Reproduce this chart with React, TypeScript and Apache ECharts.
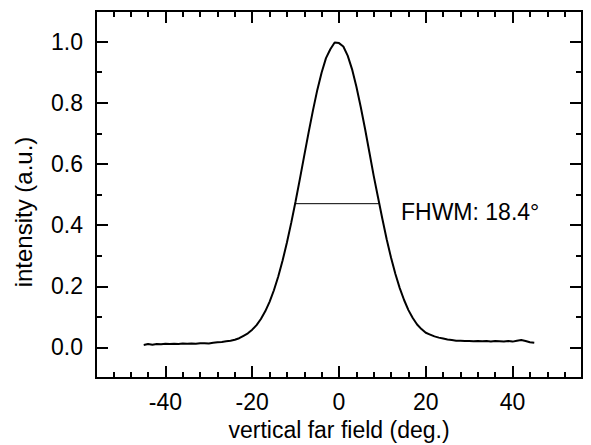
import React, { useEffect, useRef } from "react";
import * as echarts from "echarts";

// Measured far-field profile (deg., normalized intensity)
const angles: number[] = [
  -45, -44, -43, -42, -41, -40, -39, -38, -37, -36, -35, -34, -33, -32, -31, -30,
  -29, -28, -27, -26, -25, -24, -23, -22, -21, -20, -19, -18, -17, -16, -15, -14,
  -13, -12, -11, -10, -9, -8, -7, -6, -5, -4, -3, -2, -1, 0, 1, 2, 3, 4, 5, 6, 7,
  8, 9, 10, 11, 12, 13, 14, 15, 16, 17, 18, 19, 20, 21, 22, 23, 24, 25, 26, 27, 28,
  29, 30, 31, 32, 33, 34, 35, 36, 37, 38, 39, 40, 41, 42, 43, 44, 45,
];
const intensity: number[] = [
  0.008, 0.011, 0.009, 0.011, 0.010, 0.012, 0.011, 0.012, 0.011, 0.013, 0.012, 0.013,
  0.012, 0.014, 0.014, 0.013, 0.015, 0.017, 0.018, 0.020, 0.022, 0.025, 0.030, 0.038,
  0.046, 0.058, 0.073, 0.093, 0.118, 0.149, 0.187, 0.232, 0.284, 0.343, 0.408, 0.478,
  0.552, 0.628, 0.703, 0.775, 0.842, 0.899, 0.946, 0.975, 0.997, 0.995, 0.984, 0.954,
  0.910, 0.853, 0.787, 0.715, 0.638, 0.561, 0.490, 0.420, 0.353, 0.293, 0.240, 0.194,
  0.155, 0.122, 0.096, 0.075, 0.060, 0.048, 0.042, 0.036, 0.032, 0.029, 0.026, 0.024,
  0.022, 0.022, 0.021, 0.021, 0.020, 0.021, 0.020, 0.021, 0.019, 0.021, 0.020, 0.019,
  0.021, 0.019, 0.022, 0.024, 0.021, 0.017, 0.015,
];
// Full-width-at-half-maximum marker
const fwhmX: number[] = [-10, 9.2];
const fwhmY = 0.47;
const fwhmLabel = "FHWM: 18.4°";

const xMajorTicks: number[] = [-40, -20, 0, 20, 40];
const yMajorTicks: number[] = [0, 0.2, 0.4, 0.6, 0.8, 1.0];
const xRange: [number, number] = [-56, 56];
const yRange: [number, number] = [-0.1, 1.1];
const xTitle = "vertical far field (deg.)";
const yTitle = "intensity (a.u.)";

const FONT = "'Liberation Sans', Arial, Helvetica, sans-serif";
const FS = 23;

export default function App() {
  const ref = useRef<HTMLDivElement>(null);
  useEffect(() => {
    if (!ref.current) return;
    const chart = echarts.init(ref.current, undefined, { renderer: "svg" });
    const axisLine = { show: true, onZero: false, lineStyle: { color: "#000", width: 2 } };
    const mkX = (pos: "bottom" | "top", major: boolean, labels: boolean) => ({
      type: "value",
      position: pos,
      min: xRange[0],
      max: xRange[1],
      ...(major ? {} : { interval: 4 }),
      axisLine,
      splitLine: { show: false },
      axisTick: major
        ? { show: true, inside: true, length: 12, customValues: xMajorTicks, lineStyle: { color: "#000", width: 2 } }
        : { show: true, inside: true, length: 6, lineStyle: { color: "#000", width: 2 } },
      axisLabel: labels
        ? { show: true, customValues: xMajorTicks, margin: 12, color: "#000", fontSize: FS, fontFamily: FONT }
        : { show: false },
    });
    const mkY = (pos: "left" | "right", major: boolean, labels: boolean) => ({
      type: "value",
      position: pos,
      min: yRange[0],
      max: yRange[1],
      ...(major ? {} : { interval: 0.1 }),
      axisLine,
      splitLine: { show: false },
      axisTick: major
        ? { show: true, inside: true, length: 12, customValues: yMajorTicks, lineStyle: { color: "#000", width: 2 } }
        : { show: true, inside: true, length: 6, lineStyle: { color: "#000", width: 2 } },
      axisLabel: labels
        ? {
            show: true,
            customValues: yMajorTicks,
            margin: 13,
            color: "#000",
            fontSize: FS,
            fontFamily: FONT,
            formatter: (v: number) => v.toFixed(1),
          }
        : { show: false },
    });
    chart.setOption({
      animation: false,
      backgroundColor: "#fff",
      grid: { left: 96, right: 9, top: 11, bottom: 67, containLabel: false },
      xAxis: [mkX("bottom", true, true), mkX("bottom", false, false), mkX("top", true, false), mkX("top", false, false)],
      yAxis: [mkY("left", true, true), mkY("left", false, false), mkY("right", true, false), mkY("right", false, false)],
      series: [
        {
          type: "line",
          xAxisIndex: 0,
          yAxisIndex: 0,
          data: angles.map((a, i) => [a, intensity[i]]),
          showSymbol: false,
          symbol: "none",
          lineStyle: { color: "#000", width: 2 },
          silent: true,
        },
        {
          type: "line",
          xAxisIndex: 0,
          yAxisIndex: 0,
          data: fwhmX.map((x) => [x, fwhmY]),
          showSymbol: false,
          symbol: "none",
          lineStyle: { color: "#000", width: 1 },
          silent: true,
        },
      ],
      graphic: [
        {
          type: "text",
          x: 401,
          y: 212,
          style: { text: fwhmLabel, fill: "#000", font: `${FS}px ${FONT}`, textVerticalAlign: "middle", textAlign: "left" },
        },
        {
          type: "text",
          x: 339,
          y: 430,
          style: { text: xTitle, fill: "#000", font: `${FS}px ${FONT}`, textVerticalAlign: "middle", textAlign: "center" },
        },
        {
          type: "text",
          x: 23,
          y: 212,
          rotation: Math.PI / 2,
          style: { text: yTitle, fill: "#000", font: `24px ${FONT}`, textVerticalAlign: "middle", textAlign: "center" },
        },
      ],
    });
    return () => chart.dispose();
  }, []);
  return <div ref={ref} style={{ width: 591, height: 445, position: "absolute", left: 0, top: 0 }} />;
}
